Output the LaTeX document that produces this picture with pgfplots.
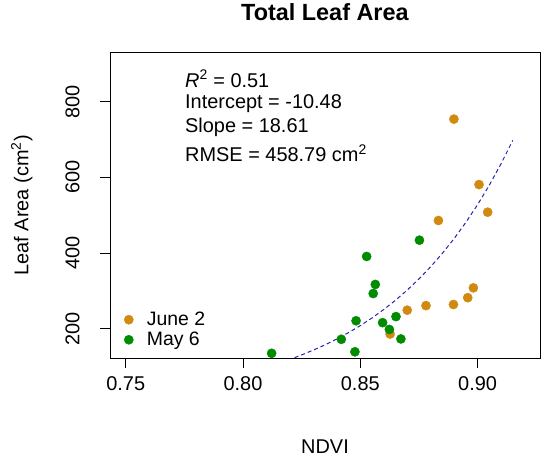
\documentclass[border=0pt]{standalone}
\usepackage{fontspec}
\setmainfont{Liberation Sans}
\usepackage{pgfplots}
\pgfplotsset{compat=1.18}
\definecolor{juneC}{HTML}{D08A10}
\definecolor{mayC}{HTML}{008B00}
\definecolor{fitC}{HTML}{2424B0}
\begin{document}
\begin{tikzpicture}
\path[use as bounding box] (-110bp,-101bp) rectangle (440bp,358bp);
\begin{axis}[
  name=ax,
  scale only axis,
  width=430bp, height=305.3bp,
  xmin=0.7433, xmax=0.9266,
  ymin=122.6, ymax=929.5,
  axis line style={line width=0.8bp},
  every tick/.style={line width=0.8bp, black},
  tick align=outside,
  major tick length=9.5bp,
  xtick pos=bottom, ytick pos=left,
  xtick={0.75,0.80,0.85,0.90},
  ytick={200,400,600,800},
  /pgf/number format/assume math mode=true,
  xticklabel style={/pgf/number format/fixed, /pgf/number format/fixed zerofill, /pgf/number format/precision=2},
  ticklabel style={font=\fontsize{20}{24}\selectfont},
  xticklabel style={anchor=base, yshift=-23bp},
  yticklabel style={rotate=90, anchor=base, yshift=21bp},
  xlabel={NDVI},
  ylabel={Leaf Area (cm\textsuperscript{2})},
  label style={font=\fontsize{20}{24}\selectfont},
  xlabel style={at={(axis description cs:0.5,0)}, anchor=base, yshift=-95.3bp},
  ylabel style={at={(axis description cs:-0.19,0.5)}, anchor=base},
  title={\textbf{Total Leaf Area}},
  title style={font=\fontsize{23.5}{28}\selectfont, at={(axis description cs:0.5,1)}, anchor=base, yshift=26.5bp},
  legend image code/.code={\draw[#1] plot coordinates {(0bp,0bp)};},
  legend style={draw=none, fill=none, at={(axis description cs:0,0)}, anchor=south west,
    font=\fontsize{19.5}{23}\selectfont, row sep=2bp, column sep=12bp, inner xsep=14bp, inner ysep=9bp,
    nodes={inner sep=1.5bp}},
  legend cell align=left,
  clip=false,
]
\addplot[only marks, mark=*, mark size=4.6bp, color=juneC, mark options={draw=juneC, fill=juneC}] coordinates {
(0.8899,754) (0.9006,581) (0.9043,508) (0.8833,486) (0.8982,308)
(0.8958,282) (0.8897,264) (0.8780,261) (0.8700,249) (0.8627,186)
};
\addlegendentry{June 2}
\addplot[only marks, mark=*, mark size=4.6bp, color=mayC, mark options={draw=mayC, fill=mayC}] coordinates {
(0.8752,434) (0.8527,391) (0.8564,317) (0.8555,293) (0.8482,221)
(0.8652,232) (0.8595,216) (0.8624,198) (0.8419,172) (0.8673,173)
(0.8477,139) (0.8122,135)
};
\addlegendentry{May 6}
\addplot[fitC, line width=1bp, dash pattern=on 4bp off 3bp, forget plot] coordinates {
(0.822,123.6) (0.825,130.8) (0.830,143.5) (0.835,157.5) (0.840,172.8)
(0.845,189.7) (0.850,208.2) (0.855,228.5) (0.860,250.8) (0.865,275.2)
(0.870,302.1) (0.875,331.5) (0.880,363.9) (0.885,399.4) (0.890,438.3)
(0.895,481.1) (0.900,528.0) (0.905,579.5) (0.910,636.0) (0.915,698.0)
};
\node[anchor=base west, inner sep=0pt, font=\fontsize{20}{24}\selectfont] at (rel axis cs:0.1744,0.8867) {\textit{R}\textsuperscript{2} = 0.51};
\node[anchor=base west, inner sep=0pt, font=\fontsize{20}{24}\selectfont] at (rel axis cs:0.1744,0.8179) {Intercept = -10.48};
\node[anchor=base west, inner sep=0pt, font=\fontsize{20}{24}\selectfont] at (rel axis cs:0.1744,0.7393) {Slope = 18.61};
\node[anchor=base west, inner sep=0pt, font=\fontsize{20}{24}\selectfont] at (rel axis cs:0.1744,0.6430) {RMSE = 458.79 cm\textsuperscript{2}};
\end{axis}
\end{tikzpicture}
\end{document}
